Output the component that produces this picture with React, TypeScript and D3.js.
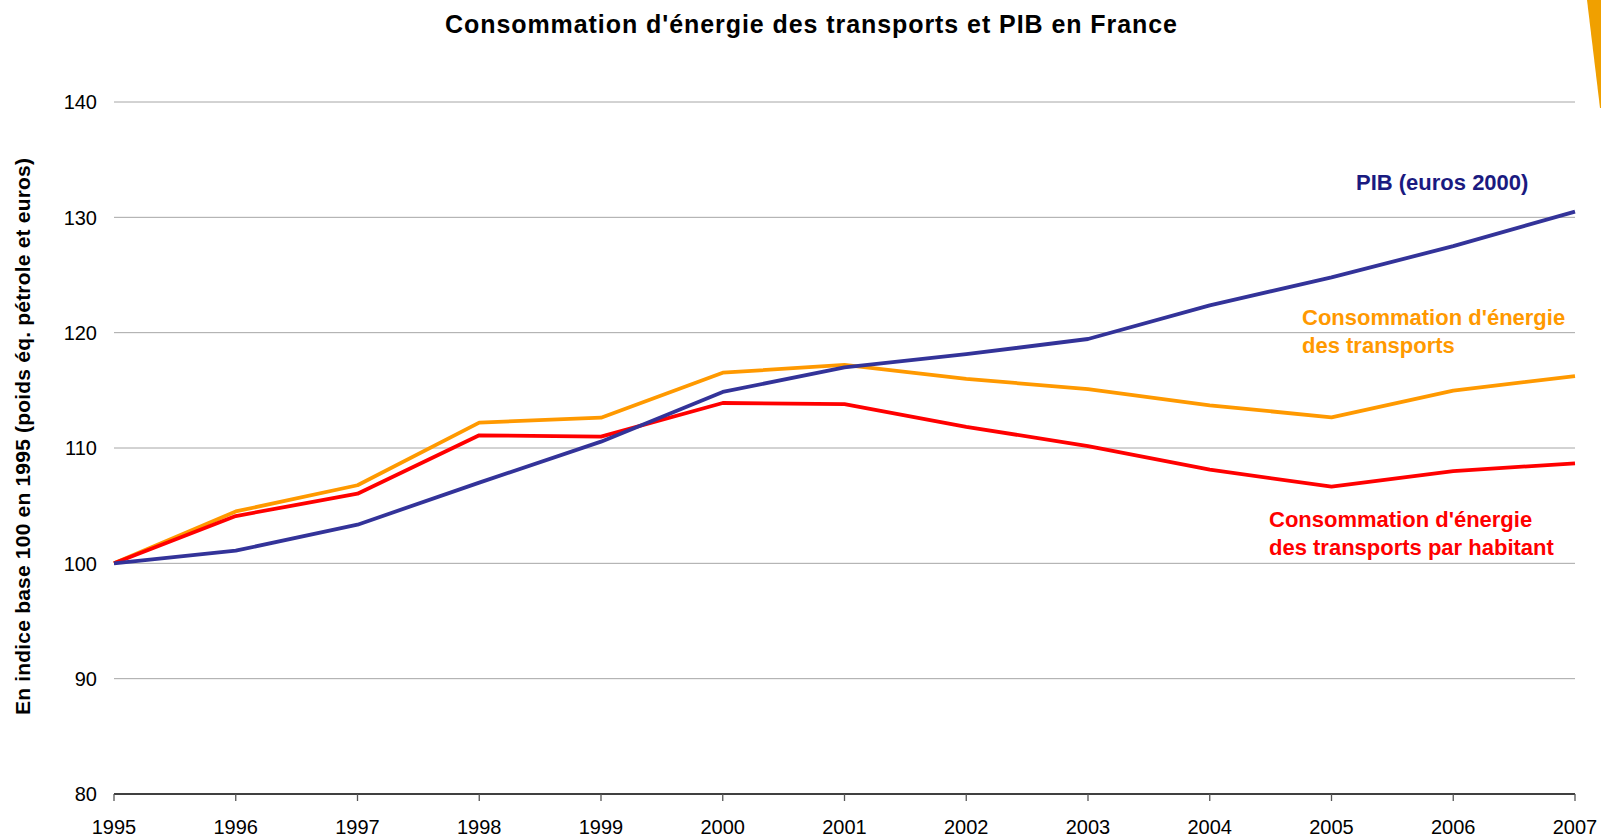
import React from "react";
import * as d3 from "d3";

const years = [1995, 1996, 1997, 1998, 1999, 2000, 2001, 2002, 2003, 2004, 2005, 2006, 2007];
const pib = [100, 101.1, 103.35, 107.0, 110.55, 114.86, 117.0, 118.13, 119.45, 122.37, 124.8, 127.5, 130.5];
const energie = [100, 104.5, 106.77, 112.2, 112.63, 116.53, 117.2, 116.0, 115.1, 113.7, 112.66, 114.97, 116.24];
const energieHab = [100, 104.1, 106.04, 111.1, 110.98, 113.9, 113.8, 111.84, 110.16, 108.12, 106.65, 108.0, 108.67];
const yTicks = [80, 90, 100, 110, 120, 130, 140];

const W = 1601;
const H = 837;
const FONT = "'Liberation Sans', Arial, sans-serif";

export default function App() {
  const x = d3.scaleLinear().domain([1995, 2007]).range([114, 1575]);
  const y = d3.scaleLinear().domain([80, 140]).range([794, 102]);
  const line = d3
    .line<number>()
    .x((_, i) => x(years[i]))
    .y((d) => y(d));

  const series = [
    { values: energie, color: "#FF9900" },
    { values: energieHab, color: "#FF0000" },
    { values: pib, color: "#333399" },
  ];

  return (
    <svg
      width={W}
      height={H}
      style={{ position: "absolute", left: 0, top: 0, background: "#fff" }}
      fontFamily={FONT}
    >
      <rect x={0} y={0} width={W} height={H} fill="#fff" />
      <polygon points="1587,0 1601,0 1601,108 1600,108" fill="#F0A000" />
      <text x={445} y={33} textLength={732} lengthAdjust="spacing" fontSize={25} fontWeight="bold" fill="#000">
        Consommation d'énergie des transports et PIB en France
      </text>
      {yTicks.map((t) =>
        t === 80 ? null : (
          <line key={"g" + t} x1={x(1995)} x2={x(2007)} y1={y(t)} y2={y(t)} stroke="#a6a6a6" strokeWidth={1} />
        )
      )}
      {yTicks.map((t) => (
        <text key={"yt" + t} x={97} y={y(t)} dy="0.36em" textAnchor="end" fontSize={20} fill="#000">
          {t}
        </text>
      ))}
      <line x1={x(1995)} x2={x(2007)} y1={y(80)} y2={y(80)} stroke="#000" strokeWidth={1.3} />
      {years.map((yr) => (
        <g key={"xt" + yr}>
          <line x1={x(yr)} x2={x(yr)} y1={y(80)} y2={y(80) + 7} stroke="#555" strokeWidth={1.3} />
          <text x={x(yr)} y={834} textAnchor="middle" fontSize={20} fill="#000">
            {yr}
          </text>
        </g>
      ))}
      <text
        transform={`translate(30,715) rotate(-90)`}
        textLength={557}
        lengthAdjust="spacing"
        fontSize={21}
        fontWeight="bold"
        fill="#000"
      >
        En indice base 100 en 1995 (poids éq. pétrole et euros)
      </text>
      {series.map((s, i) => (
        <path key={i} d={line(s.values) || ""} fill="none" stroke={s.color} strokeWidth={3.8} strokeLinejoin="round" />
      ))}
      <text x={1356} y={190} fontSize={22} fontWeight="bold" fill="#1a1a80">
        PIB (euros 2000)
      </text>
      <text x={1302} y={325} fontSize={22} fontWeight="bold" fill="#FF9900">
        <tspan x={1302}>Consommation d'énergie</tspan>
        <tspan x={1302} y={353}>des transports</tspan>
      </text>
      <text x={1269} y={527} fontSize={22} fontWeight="bold" fill="#FF0000">
        <tspan x={1269}>Consommation d'énergie</tspan>
        <tspan x={1269} y={555}>des transports par habitant</tspan>
      </text>
    </svg>
  );
}
